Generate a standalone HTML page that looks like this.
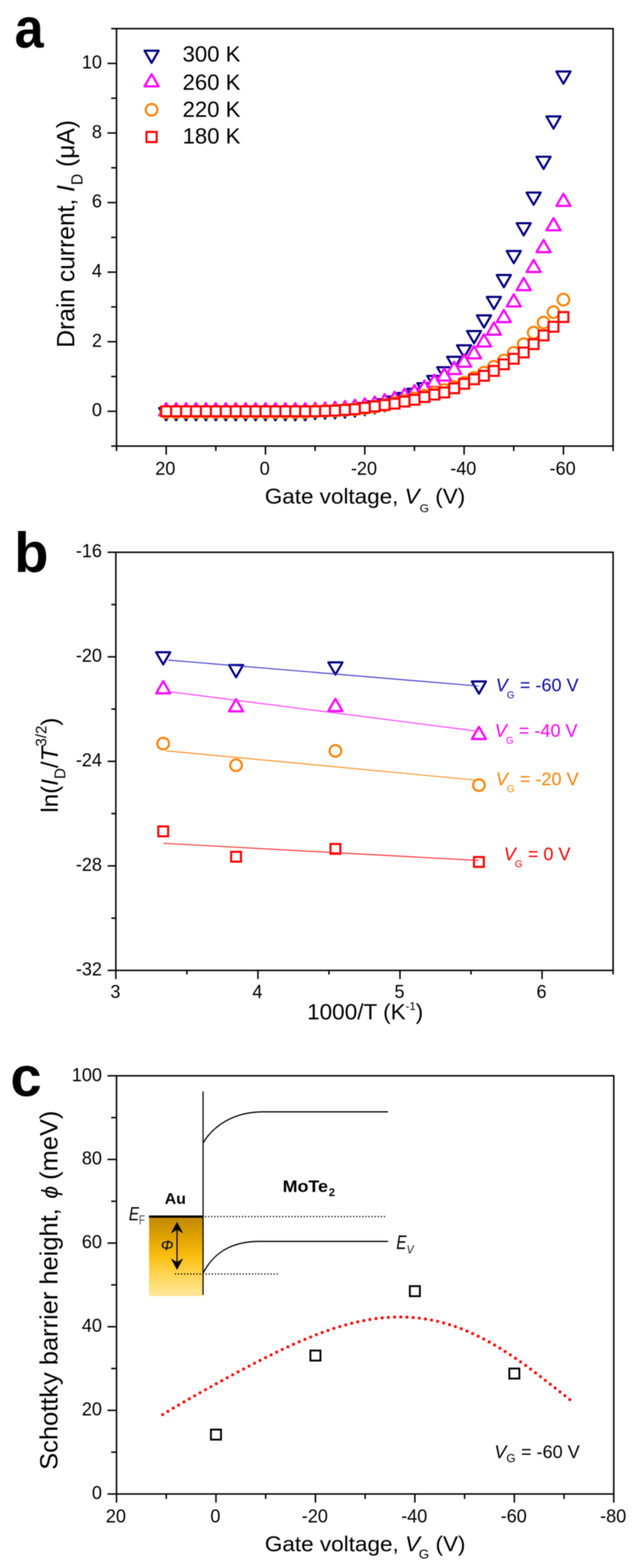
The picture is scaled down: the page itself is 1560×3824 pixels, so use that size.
<!DOCTYPE html>
<html><head><meta charset="utf-8"><title>Figure</title>
<style>html,body{margin:0;padding:0;background:#fff;} svg{display:block;} .w{filter:blur(1px);width:1560px;height:3824px;overflow:hidden;}</style></head>
<body><div class="w"><svg width="1560" height="3824" viewBox="0 0 1560 3824" font-family="Liberation Sans, Arial, sans-serif">
<rect width="1560" height="3824" fill="#fff"/>
<rect x="284.0" y="69.8" width="1210.4" height="1018.1000000000001" fill="none" stroke="#000" stroke-width="3.6"/>
<line x1="271.00" y1="1087.90" x2="284.00" y2="1087.90" stroke="#000" stroke-width="3.6" />
<line x1="262.00" y1="1003.06" x2="284.00" y2="1003.06" stroke="#000" stroke-width="3.6" />
<line x1="271.00" y1="918.22" x2="284.00" y2="918.22" stroke="#000" stroke-width="3.6" />
<line x1="262.00" y1="833.38" x2="284.00" y2="833.38" stroke="#000" stroke-width="3.6" />
<line x1="271.00" y1="748.53" x2="284.00" y2="748.53" stroke="#000" stroke-width="3.6" />
<line x1="262.00" y1="663.69" x2="284.00" y2="663.69" stroke="#000" stroke-width="3.6" />
<line x1="271.00" y1="578.85" x2="284.00" y2="578.85" stroke="#000" stroke-width="3.6" />
<line x1="262.00" y1="494.01" x2="284.00" y2="494.01" stroke="#000" stroke-width="3.6" />
<line x1="271.00" y1="409.17" x2="284.00" y2="409.17" stroke="#000" stroke-width="3.6" />
<line x1="262.00" y1="324.32" x2="284.00" y2="324.32" stroke="#000" stroke-width="3.6" />
<line x1="271.00" y1="239.48" x2="284.00" y2="239.48" stroke="#000" stroke-width="3.6" />
<line x1="262.00" y1="154.64" x2="284.00" y2="154.64" stroke="#000" stroke-width="3.6" />
<line x1="271.00" y1="69.80" x2="284.00" y2="69.80" stroke="#000" stroke-width="3.6" />
<line x1="284.00" y1="1087.90" x2="284.00" y2="1099.90" stroke="#000" stroke-width="3.6" />
<line x1="405.04" y1="1087.90" x2="405.04" y2="1108.90" stroke="#000" stroke-width="3.6" />
<line x1="526.08" y1="1087.90" x2="526.08" y2="1099.90" stroke="#000" stroke-width="3.6" />
<line x1="647.12" y1="1087.90" x2="647.12" y2="1108.90" stroke="#000" stroke-width="3.6" />
<line x1="768.16" y1="1087.90" x2="768.16" y2="1099.90" stroke="#000" stroke-width="3.6" />
<line x1="889.20" y1="1087.90" x2="889.20" y2="1108.90" stroke="#000" stroke-width="3.6" />
<line x1="1010.24" y1="1087.90" x2="1010.24" y2="1099.90" stroke="#000" stroke-width="3.6" />
<line x1="1131.28" y1="1087.90" x2="1131.28" y2="1108.90" stroke="#000" stroke-width="3.6" />
<line x1="1252.32" y1="1087.90" x2="1252.32" y2="1099.90" stroke="#000" stroke-width="3.6" />
<line x1="1373.36" y1="1087.90" x2="1373.36" y2="1108.90" stroke="#000" stroke-width="3.6" />
<line x1="1494.40" y1="1087.90" x2="1494.40" y2="1099.90" stroke="#000" stroke-width="3.6" />
<text transform="translate(248.50,1015.46) scale(1.0,1.05)" font-size="44" text-anchor="end" fill="#000" >0</text>
<text transform="translate(248.50,845.78) scale(1.0,1.05)" font-size="44" text-anchor="end" fill="#000" >2</text>
<text transform="translate(248.50,676.09) scale(1.0,1.05)" font-size="44" text-anchor="end" fill="#000" >4</text>
<text transform="translate(248.50,506.41) scale(1.0,1.05)" font-size="44" text-anchor="end" fill="#000" >6</text>
<text transform="translate(248.50,336.72) scale(1.0,1.05)" font-size="44" text-anchor="end" fill="#000" >8</text>
<text transform="translate(248.50,167.04) scale(1.0,1.05)" font-size="44" text-anchor="end" fill="#000" >10</text>
<text transform="translate(403.04,1157.80) scale(1.0,1.05)" font-size="44" text-anchor="middle" fill="#000" >20</text>
<text transform="translate(645.12,1157.80) scale(1.0,1.05)" font-size="44" text-anchor="middle" fill="#000" >0</text>
<text transform="translate(887.20,1157.80) scale(1.0,1.05)" font-size="44" text-anchor="middle" fill="#000" >-20</text>
<text transform="translate(1129.28,1157.80) scale(1.0,1.05)" font-size="44" text-anchor="middle" fill="#000" >-40</text>
<text transform="translate(1371.36,1157.80) scale(1.0,1.05)" font-size="44" text-anchor="middle" fill="#000" >-60</text>
<polygon points="387.79,995.22 422.29,995.22 405.04,1025.10" fill="#fff" stroke="#000080" stroke-width="5.2" stroke-linejoin="round"/>
<polygon points="412.00,995.22 446.50,995.22 429.25,1025.10" fill="#fff" stroke="#000080" stroke-width="5.2" stroke-linejoin="round"/>
<polygon points="436.21,995.22 470.71,995.22 453.46,1025.10" fill="#fff" stroke="#000080" stroke-width="5.2" stroke-linejoin="round"/>
<polygon points="460.41,995.22 494.91,995.22 477.66,1025.10" fill="#fff" stroke="#000080" stroke-width="5.2" stroke-linejoin="round"/>
<polygon points="484.62,995.22 519.12,995.22 501.87,1025.10" fill="#fff" stroke="#000080" stroke-width="5.2" stroke-linejoin="round"/>
<polygon points="508.83,995.22 543.33,995.22 526.08,1025.10" fill="#fff" stroke="#000080" stroke-width="5.2" stroke-linejoin="round"/>
<polygon points="533.04,995.22 567.54,995.22 550.29,1025.10" fill="#fff" stroke="#000080" stroke-width="5.2" stroke-linejoin="round"/>
<polygon points="557.25,995.22 591.75,995.22 574.50,1025.10" fill="#fff" stroke="#000080" stroke-width="5.2" stroke-linejoin="round"/>
<polygon points="581.45,995.22 615.95,995.22 598.70,1025.10" fill="#fff" stroke="#000080" stroke-width="5.2" stroke-linejoin="round"/>
<polygon points="605.66,995.22 640.16,995.22 622.91,1025.10" fill="#fff" stroke="#000080" stroke-width="5.2" stroke-linejoin="round"/>
<polygon points="629.87,995.22 664.37,995.22 647.12,1025.10" fill="#fff" stroke="#000080" stroke-width="5.2" stroke-linejoin="round"/>
<polygon points="654.08,995.22 688.58,995.22 671.33,1025.10" fill="#fff" stroke="#000080" stroke-width="5.2" stroke-linejoin="round"/>
<polygon points="678.29,995.22 712.79,995.22 695.54,1025.10" fill="#fff" stroke="#000080" stroke-width="5.2" stroke-linejoin="round"/>
<polygon points="702.49,995.22 736.99,995.22 719.74,1025.10" fill="#fff" stroke="#000080" stroke-width="5.2" stroke-linejoin="round"/>
<polygon points="726.70,995.22 761.20,995.22 743.95,1025.10" fill="#fff" stroke="#000080" stroke-width="5.2" stroke-linejoin="round"/>
<polygon points="750.91,992.25 785.41,992.25 768.16,1022.13" fill="#fff" stroke="#000080" stroke-width="5.2" stroke-linejoin="round"/>
<polygon points="775.12,991.40 809.62,991.40 792.37,1021.28" fill="#fff" stroke="#000080" stroke-width="5.2" stroke-linejoin="round"/>
<polygon points="799.33,990.55 833.83,990.55 816.58,1020.43" fill="#fff" stroke="#000080" stroke-width="5.2" stroke-linejoin="round"/>
<polygon points="823.53,988.86 858.03,988.86 840.78,1018.73" fill="#fff" stroke="#000080" stroke-width="5.2" stroke-linejoin="round"/>
<polygon points="847.74,986.31 882.24,986.31 864.99,1016.19" fill="#fff" stroke="#000080" stroke-width="5.2" stroke-linejoin="round"/>
<polygon points="871.95,982.92 906.45,982.92 889.20,1012.80" fill="#fff" stroke="#000080" stroke-width="5.2" stroke-linejoin="round"/>
<polygon points="896.16,978.68 930.66,978.68 913.41,1008.55" fill="#fff" stroke="#000080" stroke-width="5.2" stroke-linejoin="round"/>
<polygon points="920.37,973.59 954.87,973.59 937.62,1003.46" fill="#fff" stroke="#000080" stroke-width="5.2" stroke-linejoin="round"/>
<polygon points="944.57,966.80 979.07,966.80 961.82,996.68" fill="#fff" stroke="#000080" stroke-width="5.2" stroke-linejoin="round"/>
<polygon points="968.78,958.31 1003.28,958.31 986.03,988.19" fill="#fff" stroke="#000080" stroke-width="5.2" stroke-linejoin="round"/>
<polygon points="992.99,948.13 1027.49,948.13 1010.24,978.01" fill="#fff" stroke="#000080" stroke-width="5.2" stroke-linejoin="round"/>
<polygon points="1017.20,934.56 1051.70,934.56 1034.45,964.44" fill="#fff" stroke="#000080" stroke-width="5.2" stroke-linejoin="round"/>
<polygon points="1041.41,916.74 1075.91,916.74 1058.66,946.62" fill="#fff" stroke="#000080" stroke-width="5.2" stroke-linejoin="round"/>
<polygon points="1065.61,895.53 1100.11,895.53 1082.86,925.41" fill="#fff" stroke="#000080" stroke-width="5.2" stroke-linejoin="round"/>
<polygon points="1089.82,870.08 1124.32,870.08 1107.07,899.96" fill="#fff" stroke="#000080" stroke-width="5.2" stroke-linejoin="round"/>
<polygon points="1114.03,842.08 1148.53,842.08 1131.28,871.96" fill="#fff" stroke="#000080" stroke-width="5.2" stroke-linejoin="round"/>
<polygon points="1138.24,807.30 1172.74,807.30 1155.49,837.17" fill="#fff" stroke="#000080" stroke-width="5.2" stroke-linejoin="round"/>
<polygon points="1162.45,769.12 1196.95,769.12 1179.70,798.99" fill="#fff" stroke="#000080" stroke-width="5.2" stroke-linejoin="round"/>
<polygon points="1186.65,724.15 1221.15,724.15 1203.90,754.03" fill="#fff" stroke="#000080" stroke-width="5.2" stroke-linejoin="round"/>
<polygon points="1210.86,670.70 1245.36,670.70 1228.11,700.58" fill="#fff" stroke="#000080" stroke-width="5.2" stroke-linejoin="round"/>
<polygon points="1235.07,612.16 1269.57,612.16 1252.32,642.04" fill="#fff" stroke="#000080" stroke-width="5.2" stroke-linejoin="round"/>
<polygon points="1259.28,544.29 1293.78,544.29 1276.53,574.16" fill="#fff" stroke="#000080" stroke-width="5.2" stroke-linejoin="round"/>
<polygon points="1283.49,469.63 1317.99,469.63 1300.74,499.50" fill="#fff" stroke="#000080" stroke-width="5.2" stroke-linejoin="round"/>
<polygon points="1307.69,382.24 1342.19,382.24 1324.94,412.12" fill="#fff" stroke="#000080" stroke-width="5.2" stroke-linejoin="round"/>
<polygon points="1331.90,283.82 1366.40,283.82 1349.15,313.70" fill="#fff" stroke="#000080" stroke-width="5.2" stroke-linejoin="round"/>
<polygon points="1356.11,174.38 1390.61,174.38 1373.36,204.25" fill="#fff" stroke="#000080" stroke-width="5.2" stroke-linejoin="round"/>
<polygon points="387.79,1013.02 422.29,1013.02 405.04,983.14" fill="#fff" stroke="#ff00ff" stroke-width="5.2" stroke-linejoin="round"/>
<polygon points="412.00,1013.02 446.50,1013.02 429.25,983.14" fill="#fff" stroke="#ff00ff" stroke-width="5.2" stroke-linejoin="round"/>
<polygon points="436.21,1013.02 470.71,1013.02 453.46,983.14" fill="#fff" stroke="#ff00ff" stroke-width="5.2" stroke-linejoin="round"/>
<polygon points="460.41,1013.02 494.91,1013.02 477.66,983.14" fill="#fff" stroke="#ff00ff" stroke-width="5.2" stroke-linejoin="round"/>
<polygon points="484.62,1013.02 519.12,1013.02 501.87,983.14" fill="#fff" stroke="#ff00ff" stroke-width="5.2" stroke-linejoin="round"/>
<polygon points="508.83,1013.02 543.33,1013.02 526.08,983.14" fill="#fff" stroke="#ff00ff" stroke-width="5.2" stroke-linejoin="round"/>
<polygon points="533.04,1013.02 567.54,1013.02 550.29,983.14" fill="#fff" stroke="#ff00ff" stroke-width="5.2" stroke-linejoin="round"/>
<polygon points="557.25,1013.02 591.75,1013.02 574.50,983.14" fill="#fff" stroke="#ff00ff" stroke-width="5.2" stroke-linejoin="round"/>
<polygon points="581.45,1013.02 615.95,1013.02 598.70,983.14" fill="#fff" stroke="#ff00ff" stroke-width="5.2" stroke-linejoin="round"/>
<polygon points="605.66,1013.02 640.16,1013.02 622.91,983.14" fill="#fff" stroke="#ff00ff" stroke-width="5.2" stroke-linejoin="round"/>
<polygon points="629.87,1013.02 664.37,1013.02 647.12,983.14" fill="#fff" stroke="#ff00ff" stroke-width="5.2" stroke-linejoin="round"/>
<polygon points="654.08,1013.02 688.58,1013.02 671.33,983.14" fill="#fff" stroke="#ff00ff" stroke-width="5.2" stroke-linejoin="round"/>
<polygon points="678.29,1013.02 712.79,1013.02 695.54,983.14" fill="#fff" stroke="#ff00ff" stroke-width="5.2" stroke-linejoin="round"/>
<polygon points="702.49,1013.02 736.99,1013.02 719.74,983.14" fill="#fff" stroke="#ff00ff" stroke-width="5.2" stroke-linejoin="round"/>
<polygon points="726.70,1013.02 761.20,1013.02 743.95,983.14" fill="#fff" stroke="#ff00ff" stroke-width="5.2" stroke-linejoin="round"/>
<polygon points="750.91,1012.17 785.41,1012.17 768.16,982.29" fill="#fff" stroke="#ff00ff" stroke-width="5.2" stroke-linejoin="round"/>
<polygon points="775.12,1011.32 809.62,1011.32 792.37,981.44" fill="#fff" stroke="#ff00ff" stroke-width="5.2" stroke-linejoin="round"/>
<polygon points="799.33,1009.62 833.83,1009.62 816.58,979.75" fill="#fff" stroke="#ff00ff" stroke-width="5.2" stroke-linejoin="round"/>
<polygon points="823.53,1007.93 858.03,1007.93 840.78,978.05" fill="#fff" stroke="#ff00ff" stroke-width="5.2" stroke-linejoin="round"/>
<polygon points="847.74,1004.53 882.24,1004.53 864.99,974.66" fill="#fff" stroke="#ff00ff" stroke-width="5.2" stroke-linejoin="round"/>
<polygon points="871.95,1001.14 906.45,1001.14 889.20,971.26" fill="#fff" stroke="#ff00ff" stroke-width="5.2" stroke-linejoin="round"/>
<polygon points="896.16,996.90 930.66,996.90 913.41,967.02" fill="#fff" stroke="#ff00ff" stroke-width="5.2" stroke-linejoin="round"/>
<polygon points="920.37,990.96 954.87,990.96 937.62,961.08" fill="#fff" stroke="#ff00ff" stroke-width="5.2" stroke-linejoin="round"/>
<polygon points="944.57,985.02 979.07,985.02 961.82,955.14" fill="#fff" stroke="#ff00ff" stroke-width="5.2" stroke-linejoin="round"/>
<polygon points="968.78,977.38 1003.28,977.38 986.03,947.51" fill="#fff" stroke="#ff00ff" stroke-width="5.2" stroke-linejoin="round"/>
<polygon points="992.99,968.90 1027.49,968.90 1010.24,939.02" fill="#fff" stroke="#ff00ff" stroke-width="5.2" stroke-linejoin="round"/>
<polygon points="1017.20,957.87 1051.70,957.87 1034.45,927.99" fill="#fff" stroke="#ff00ff" stroke-width="5.2" stroke-linejoin="round"/>
<polygon points="1041.41,943.45 1075.91,943.45 1058.66,913.57" fill="#fff" stroke="#ff00ff" stroke-width="5.2" stroke-linejoin="round"/>
<polygon points="1065.61,928.18 1100.11,928.18 1082.86,898.30" fill="#fff" stroke="#ff00ff" stroke-width="5.2" stroke-linejoin="round"/>
<polygon points="1089.82,912.06 1124.32,912.06 1107.07,882.18" fill="#fff" stroke="#ff00ff" stroke-width="5.2" stroke-linejoin="round"/>
<polygon points="1114.03,894.24 1148.53,894.24 1131.28,864.36" fill="#fff" stroke="#ff00ff" stroke-width="5.2" stroke-linejoin="round"/>
<polygon points="1138.24,873.88 1172.74,873.88 1155.49,844.00" fill="#fff" stroke="#ff00ff" stroke-width="5.2" stroke-linejoin="round"/>
<polygon points="1162.45,845.03 1196.95,845.03 1179.70,815.15" fill="#fff" stroke="#ff00ff" stroke-width="5.2" stroke-linejoin="round"/>
<polygon points="1186.65,816.18 1221.15,816.18 1203.90,786.31" fill="#fff" stroke="#ff00ff" stroke-width="5.2" stroke-linejoin="round"/>
<polygon points="1210.86,785.64 1245.36,785.64 1228.11,755.76" fill="#fff" stroke="#ff00ff" stroke-width="5.2" stroke-linejoin="round"/>
<polygon points="1235.07,747.46 1269.57,747.46 1252.32,717.59" fill="#fff" stroke="#ff00ff" stroke-width="5.2" stroke-linejoin="round"/>
<polygon points="1259.28,707.59 1293.78,707.59 1276.53,677.71" fill="#fff" stroke="#ff00ff" stroke-width="5.2" stroke-linejoin="round"/>
<polygon points="1283.49,663.47 1317.99,663.47 1300.74,633.59" fill="#fff" stroke="#ff00ff" stroke-width="5.2" stroke-linejoin="round"/>
<polygon points="1307.69,615.11 1342.19,615.11 1324.94,585.23" fill="#fff" stroke="#ff00ff" stroke-width="5.2" stroke-linejoin="round"/>
<polygon points="1331.90,561.66 1366.40,561.66 1349.15,531.78" fill="#fff" stroke="#ff00ff" stroke-width="5.2" stroke-linejoin="round"/>
<polygon points="1356.11,502.27 1390.61,502.27 1373.36,472.39" fill="#fff" stroke="#ff00ff" stroke-width="5.2" stroke-linejoin="round"/>
<circle cx="405.04" cy="1005.18" r="14.2" fill="#fff" stroke="#ff8000" stroke-width="5.0"/>
<circle cx="429.25" cy="1005.18" r="14.2" fill="#fff" stroke="#ff8000" stroke-width="5.0"/>
<circle cx="453.46" cy="1005.18" r="14.2" fill="#fff" stroke="#ff8000" stroke-width="5.0"/>
<circle cx="477.66" cy="1005.18" r="14.2" fill="#fff" stroke="#ff8000" stroke-width="5.0"/>
<circle cx="501.87" cy="1005.18" r="14.2" fill="#fff" stroke="#ff8000" stroke-width="5.0"/>
<circle cx="526.08" cy="1005.18" r="14.2" fill="#fff" stroke="#ff8000" stroke-width="5.0"/>
<circle cx="550.29" cy="1005.18" r="14.2" fill="#fff" stroke="#ff8000" stroke-width="5.0"/>
<circle cx="574.50" cy="1005.18" r="14.2" fill="#fff" stroke="#ff8000" stroke-width="5.0"/>
<circle cx="598.70" cy="1005.18" r="14.2" fill="#fff" stroke="#ff8000" stroke-width="5.0"/>
<circle cx="622.91" cy="1005.18" r="14.2" fill="#fff" stroke="#ff8000" stroke-width="5.0"/>
<circle cx="647.12" cy="1005.18" r="14.2" fill="#fff" stroke="#ff8000" stroke-width="5.0"/>
<circle cx="671.33" cy="1005.18" r="14.2" fill="#fff" stroke="#ff8000" stroke-width="5.0"/>
<circle cx="695.54" cy="1005.18" r="14.2" fill="#fff" stroke="#ff8000" stroke-width="5.0"/>
<circle cx="719.74" cy="1005.18" r="14.2" fill="#fff" stroke="#ff8000" stroke-width="5.0"/>
<circle cx="743.95" cy="1005.18" r="14.2" fill="#fff" stroke="#ff8000" stroke-width="5.0"/>
<circle cx="768.16" cy="1003.06" r="14.2" fill="#fff" stroke="#ff8000" stroke-width="5.0"/>
<circle cx="792.37" cy="1002.21" r="14.2" fill="#fff" stroke="#ff8000" stroke-width="5.0"/>
<circle cx="816.58" cy="1001.36" r="14.2" fill="#fff" stroke="#ff8000" stroke-width="5.0"/>
<circle cx="840.78" cy="999.66" r="14.2" fill="#fff" stroke="#ff8000" stroke-width="5.0"/>
<circle cx="864.99" cy="997.97" r="14.2" fill="#fff" stroke="#ff8000" stroke-width="5.0"/>
<circle cx="889.20" cy="995.42" r="14.2" fill="#fff" stroke="#ff8000" stroke-width="5.0"/>
<circle cx="913.41" cy="992.03" r="14.2" fill="#fff" stroke="#ff8000" stroke-width="5.0"/>
<circle cx="937.62" cy="987.79" r="14.2" fill="#fff" stroke="#ff8000" stroke-width="5.0"/>
<circle cx="961.82" cy="982.70" r="14.2" fill="#fff" stroke="#ff8000" stroke-width="5.0"/>
<circle cx="986.03" cy="977.61" r="14.2" fill="#fff" stroke="#ff8000" stroke-width="5.0"/>
<circle cx="1010.24" cy="971.67" r="14.2" fill="#fff" stroke="#ff8000" stroke-width="5.0"/>
<circle cx="1034.45" cy="964.88" r="14.2" fill="#fff" stroke="#ff8000" stroke-width="5.0"/>
<circle cx="1058.66" cy="958.09" r="14.2" fill="#fff" stroke="#ff8000" stroke-width="5.0"/>
<circle cx="1082.86" cy="951.30" r="14.2" fill="#fff" stroke="#ff8000" stroke-width="5.0"/>
<circle cx="1107.07" cy="943.67" r="14.2" fill="#fff" stroke="#ff8000" stroke-width="5.0"/>
<circle cx="1131.28" cy="933.49" r="14.2" fill="#fff" stroke="#ff8000" stroke-width="5.0"/>
<circle cx="1155.49" cy="921.61" r="14.2" fill="#fff" stroke="#ff8000" stroke-width="5.0"/>
<circle cx="1179.70" cy="908.88" r="14.2" fill="#fff" stroke="#ff8000" stroke-width="5.0"/>
<circle cx="1203.90" cy="894.46" r="14.2" fill="#fff" stroke="#ff8000" stroke-width="5.0"/>
<circle cx="1228.11" cy="879.19" r="14.2" fill="#fff" stroke="#ff8000" stroke-width="5.0"/>
<circle cx="1252.32" cy="860.52" r="14.2" fill="#fff" stroke="#ff8000" stroke-width="5.0"/>
<circle cx="1276.53" cy="839.31" r="14.2" fill="#fff" stroke="#ff8000" stroke-width="5.0"/>
<circle cx="1300.74" cy="811.32" r="14.2" fill="#fff" stroke="#ff8000" stroke-width="5.0"/>
<circle cx="1324.94" cy="786.71" r="14.2" fill="#fff" stroke="#ff8000" stroke-width="5.0"/>
<circle cx="1349.15" cy="761.26" r="14.2" fill="#fff" stroke="#ff8000" stroke-width="5.0"/>
<circle cx="1373.36" cy="730.72" r="14.2" fill="#fff" stroke="#ff8000" stroke-width="5.0"/>
<rect x="393.04" y="991.06" width="24" height="24" fill="#fff" stroke="#ff0000" stroke-width="5.0"/>
<rect x="417.25" y="991.06" width="24" height="24" fill="#fff" stroke="#ff0000" stroke-width="5.0"/>
<rect x="441.46" y="991.06" width="24" height="24" fill="#fff" stroke="#ff0000" stroke-width="5.0"/>
<rect x="465.66" y="991.06" width="24" height="24" fill="#fff" stroke="#ff0000" stroke-width="5.0"/>
<rect x="489.87" y="991.06" width="24" height="24" fill="#fff" stroke="#ff0000" stroke-width="5.0"/>
<rect x="514.08" y="991.06" width="24" height="24" fill="#fff" stroke="#ff0000" stroke-width="5.0"/>
<rect x="538.29" y="991.06" width="24" height="24" fill="#fff" stroke="#ff0000" stroke-width="5.0"/>
<rect x="562.50" y="991.06" width="24" height="24" fill="#fff" stroke="#ff0000" stroke-width="5.0"/>
<rect x="586.70" y="991.06" width="24" height="24" fill="#fff" stroke="#ff0000" stroke-width="5.0"/>
<rect x="610.91" y="991.06" width="24" height="24" fill="#fff" stroke="#ff0000" stroke-width="5.0"/>
<rect x="635.12" y="991.06" width="24" height="24" fill="#fff" stroke="#ff0000" stroke-width="5.0"/>
<rect x="659.33" y="991.06" width="24" height="24" fill="#fff" stroke="#ff0000" stroke-width="5.0"/>
<rect x="683.54" y="991.06" width="24" height="24" fill="#fff" stroke="#ff0000" stroke-width="5.0"/>
<rect x="707.74" y="991.06" width="24" height="24" fill="#fff" stroke="#ff0000" stroke-width="5.0"/>
<rect x="731.95" y="991.06" width="24" height="24" fill="#fff" stroke="#ff0000" stroke-width="5.0"/>
<rect x="756.16" y="991.06" width="24" height="24" fill="#fff" stroke="#ff0000" stroke-width="5.0"/>
<rect x="780.37" y="990.21" width="24" height="24" fill="#fff" stroke="#ff0000" stroke-width="5.0"/>
<rect x="804.58" y="989.36" width="24" height="24" fill="#fff" stroke="#ff0000" stroke-width="5.0"/>
<rect x="828.78" y="987.66" width="24" height="24" fill="#fff" stroke="#ff0000" stroke-width="5.0"/>
<rect x="852.99" y="985.97" width="24" height="24" fill="#fff" stroke="#ff0000" stroke-width="5.0"/>
<rect x="877.20" y="982.57" width="24" height="24" fill="#fff" stroke="#ff0000" stroke-width="5.0"/>
<rect x="901.41" y="979.18" width="24" height="24" fill="#fff" stroke="#ff0000" stroke-width="5.0"/>
<rect x="925.62" y="975.79" width="24" height="24" fill="#fff" stroke="#ff0000" stroke-width="5.0"/>
<rect x="949.82" y="972.39" width="24" height="24" fill="#fff" stroke="#ff0000" stroke-width="5.0"/>
<rect x="974.03" y="967.30" width="24" height="24" fill="#fff" stroke="#ff0000" stroke-width="5.0"/>
<rect x="998.24" y="963.06" width="24" height="24" fill="#fff" stroke="#ff0000" stroke-width="5.0"/>
<rect x="1022.45" y="956.27" width="24" height="24" fill="#fff" stroke="#ff0000" stroke-width="5.0"/>
<rect x="1046.66" y="950.33" width="24" height="24" fill="#fff" stroke="#ff0000" stroke-width="5.0"/>
<rect x="1070.86" y="945.24" width="24" height="24" fill="#fff" stroke="#ff0000" stroke-width="5.0"/>
<rect x="1095.07" y="935.06" width="24" height="24" fill="#fff" stroke="#ff0000" stroke-width="5.0"/>
<rect x="1119.28" y="924.03" width="24" height="24" fill="#fff" stroke="#ff0000" stroke-width="5.0"/>
<rect x="1143.49" y="913.00" width="24" height="24" fill="#fff" stroke="#ff0000" stroke-width="5.0"/>
<rect x="1167.70" y="904.52" width="24" height="24" fill="#fff" stroke="#ff0000" stroke-width="5.0"/>
<rect x="1191.90" y="892.64" width="24" height="24" fill="#fff" stroke="#ff0000" stroke-width="5.0"/>
<rect x="1216.11" y="876.52" width="24" height="24" fill="#fff" stroke="#ff0000" stroke-width="5.0"/>
<rect x="1240.32" y="862.95" width="24" height="24" fill="#fff" stroke="#ff0000" stroke-width="5.0"/>
<rect x="1264.53" y="847.68" width="24" height="24" fill="#fff" stroke="#ff0000" stroke-width="5.0"/>
<rect x="1288.74" y="827.31" width="24" height="24" fill="#fff" stroke="#ff0000" stroke-width="5.0"/>
<rect x="1312.94" y="806.10" width="24" height="24" fill="#fff" stroke="#ff0000" stroke-width="5.0"/>
<rect x="1337.15" y="784.89" width="24" height="24" fill="#fff" stroke="#ff0000" stroke-width="5.0"/>
<rect x="1361.36" y="761.14" width="24" height="24" fill="#fff" stroke="#ff0000" stroke-width="5.0"/>
<polygon points="352.25,123.54 386.75,123.54 369.50,153.42" fill="#fff" stroke="#000080" stroke-width="5.2" stroke-linejoin="round"/>
<polygon points="352.25,210.66 386.75,210.66 369.50,180.78" fill="#fff" stroke="#ff00ff" stroke-width="5.2" stroke-linejoin="round"/>
<circle cx="369.50" cy="267.80" r="14.2" fill="#fff" stroke="#ff8000" stroke-width="5.0"/>
<rect x="357.10" y="321.70" width="24.8" height="24.8" fill="#fff" stroke="#ff0000" stroke-width="5.0"/>
<text x="445.00" y="150.00" font-size="54" fill="#000" >300 K</text>
<text x="445.00" y="218.50" font-size="54" fill="#000" >260 K</text>
<text x="445.00" y="284.70" font-size="54" fill="#000" >220 K</text>
<text x="445.00" y="350.20" font-size="54" fill="#000" >180 K</text>
<text transform="translate(180.50,848.00) rotate(-90) scale(1.0,1.03)" font-size="60" fill="#000" >Drain current, <tspan font-style="italic">I</tspan><tspan font-size="38" dy="20">D</tspan><tspan dy="-20"> (μA)</tspan></text>
<text transform="translate(645.50,1228.30) scale(1.053,1.0)" font-size="52" fill="#000" >Gate voltage, <tspan font-style="italic">V</tspan><tspan font-size="28" dy="20.5">G</tspan><tspan dy="-20.5"> (V)</tspan></text>
<text transform="translate(35.50,115.50) scale(0.93,1.0)" font-size="137" font-weight="bold" fill="#000" >a</text>
<rect x="282.4" y="1346.9" width="1212.0" height="1019.6999999999998" fill="none" stroke="#000" stroke-width="3.6"/>
<line x1="262.40" y1="1346.90" x2="282.40" y2="1346.90" stroke="#000" stroke-width="3.6" />
<line x1="271.40" y1="1474.36" x2="282.40" y2="1474.36" stroke="#000" stroke-width="3.6" />
<line x1="262.40" y1="1601.83" x2="282.40" y2="1601.83" stroke="#000" stroke-width="3.6" />
<line x1="271.40" y1="1729.29" x2="282.40" y2="1729.29" stroke="#000" stroke-width="3.6" />
<line x1="262.40" y1="1856.75" x2="282.40" y2="1856.75" stroke="#000" stroke-width="3.6" />
<line x1="271.40" y1="1984.21" x2="282.40" y2="1984.21" stroke="#000" stroke-width="3.6" />
<line x1="262.40" y1="2111.68" x2="282.40" y2="2111.68" stroke="#000" stroke-width="3.6" />
<line x1="271.40" y1="2239.14" x2="282.40" y2="2239.14" stroke="#000" stroke-width="3.6" />
<line x1="262.40" y1="2366.60" x2="282.40" y2="2366.60" stroke="#000" stroke-width="3.6" />
<line x1="282.40" y1="2366.60" x2="282.40" y2="2387.60" stroke="#000" stroke-width="3.6" />
<line x1="455.54" y1="2366.60" x2="455.54" y2="2376.60" stroke="#000" stroke-width="3.6" />
<line x1="628.69" y1="2366.60" x2="628.69" y2="2387.60" stroke="#000" stroke-width="3.6" />
<line x1="801.83" y1="2366.60" x2="801.83" y2="2376.60" stroke="#000" stroke-width="3.6" />
<line x1="974.97" y1="2366.60" x2="974.97" y2="2387.60" stroke="#000" stroke-width="3.6" />
<line x1="1148.11" y1="2366.60" x2="1148.11" y2="2376.60" stroke="#000" stroke-width="3.6" />
<line x1="1321.26" y1="2366.60" x2="1321.26" y2="2387.60" stroke="#000" stroke-width="3.6" />
<line x1="1494.40" y1="2366.60" x2="1494.40" y2="2376.60" stroke="#000" stroke-width="3.6" />
<text transform="translate(248.50,1359.30) scale(1.0,1.05)" font-size="44" text-anchor="end" fill="#000" >-16</text>
<text transform="translate(248.50,1614.23) scale(1.0,1.05)" font-size="44" text-anchor="end" fill="#000" >-20</text>
<text transform="translate(248.50,1869.15) scale(1.0,1.05)" font-size="44" text-anchor="end" fill="#000" >-24</text>
<text transform="translate(248.50,2124.08) scale(1.0,1.05)" font-size="44" text-anchor="end" fill="#000" >-28</text>
<text transform="translate(248.50,2379.00) scale(1.0,1.05)" font-size="44" text-anchor="end" fill="#000" >-32</text>
<text transform="translate(281.20,2433.60) scale(1.0,1.05)" font-size="44" text-anchor="middle" fill="#000" >3</text>
<text transform="translate(627.49,2433.60) scale(1.0,1.05)" font-size="44" text-anchor="middle" fill="#000" >4</text>
<text transform="translate(973.77,2433.60) scale(1.0,1.05)" font-size="44" text-anchor="middle" fill="#000" >5</text>
<text transform="translate(1320.06,2433.60) scale(1.0,1.05)" font-size="44" text-anchor="middle" fill="#000" >6</text>
<polygon points="380.58,1590.59 415.08,1590.59 397.83,1620.47" fill="#fff" stroke="#000080" stroke-width="5.2" stroke-linejoin="round"/>
<polygon points="558.16,1621.82 592.66,1621.82 575.41,1651.70" fill="#fff" stroke="#000080" stroke-width="5.2" stroke-linejoin="round"/>
<polygon points="800.32,1615.45 834.82,1615.45 817.57,1645.32" fill="#fff" stroke="#000080" stroke-width="5.2" stroke-linejoin="round"/>
<polygon points="1150.10,1661.97 1184.60,1661.97 1167.35,1691.85" fill="#fff" stroke="#000080" stroke-width="5.2" stroke-linejoin="round"/>
<polygon points="380.58,1690.81 415.08,1690.81 397.83,1660.93" fill="#fff" stroke="#ff00ff" stroke-width="5.2" stroke-linejoin="round"/>
<polygon points="558.16,1734.79 592.66,1734.79 575.41,1704.91" fill="#fff" stroke="#ff00ff" stroke-width="5.2" stroke-linejoin="round"/>
<polygon points="800.32,1734.15 834.82,1734.15 817.57,1704.27" fill="#fff" stroke="#ff00ff" stroke-width="5.2" stroke-linejoin="round"/>
<polygon points="1150.10,1802.34 1184.60,1802.34 1167.35,1772.46" fill="#fff" stroke="#ff00ff" stroke-width="5.2" stroke-linejoin="round"/>
<circle cx="397.83" cy="1813.41" r="14.2" fill="#fff" stroke="#ff8000" stroke-width="5.0"/>
<circle cx="575.41" cy="1866.31" r="14.2" fill="#fff" stroke="#ff8000" stroke-width="5.0"/>
<circle cx="817.57" cy="1831.26" r="14.2" fill="#fff" stroke="#ff8000" stroke-width="5.0"/>
<circle cx="1167.35" cy="1914.75" r="14.2" fill="#fff" stroke="#ff8000" stroke-width="5.0"/>
<rect x="385.83" y="2015.55" width="24" height="24" fill="#fff" stroke="#ff0000" stroke-width="5.0"/>
<rect x="563.41" y="2077.37" width="24" height="24" fill="#fff" stroke="#ff0000" stroke-width="5.0"/>
<rect x="805.57" y="2058.25" width="24" height="24" fill="#fff" stroke="#ff0000" stroke-width="5.0"/>
<rect x="1155.35" y="2090.12" width="24" height="24" fill="#fff" stroke="#ff0000" stroke-width="5.0"/>
<line x1="410.50" y1="1609.75" x2="1166.20" y2="1673.10" stroke="#3c34c8" stroke-width="2.4" />
<line x1="410.50" y1="1686.66" x2="1166.20" y2="1783.50" stroke="#ff30ff" stroke-width="2.4" />
<line x1="404.00" y1="1830.98" x2="1166.20" y2="1903.10" stroke="#ff8c1a" stroke-width="2.4" />
<line x1="398.50" y1="2056.59" x2="1166.20" y2="2098.50" stroke="#ff2a2a" stroke-width="2.4" />
<text x="1208.60" y="1685.50" font-size="44" font-style="italic" fill="#0c0ca6" >V</text>
<text x="1235.50" y="1702.50" font-size="24" fill="#0c0ca6" >G</text>
<text x="1267.20" y="1685.50" font-size="44" fill="#0c0ca6" >= -60 V</text>
<text x="1206.00" y="1796.60" font-size="44" font-style="italic" fill="#ff00ff" >V</text>
<text x="1232.90" y="1813.60" font-size="24" fill="#ff00ff" >G</text>
<text x="1264.60" y="1796.60" font-size="44" fill="#ff00ff" >= -40 V</text>
<text x="1208.70" y="1915.00" font-size="44" font-style="italic" fill="#ff8000" >V</text>
<text x="1235.60" y="1932.00" font-size="24" fill="#ff8000" >G</text>
<text x="1267.30" y="1915.00" font-size="44" fill="#ff8000" >= -20 V</text>
<text x="1228.10" y="2098.00" font-size="44" font-style="italic" fill="#ff0000" >V</text>
<text x="1255.00" y="2115.00" font-size="24" fill="#ff0000" >G</text>
<text x="1286.70" y="2098.00" font-size="44" fill="#ff0000" >= 0 V</text>
<text transform="translate(140.5,1982) rotate(-90) scale(1.02,1)" font-size="58" fill="#000">ln(<tspan font-style="italic">I</tspan><tspan font-size="36" dy="18">D</tspan><tspan dy="-18">/</tspan><tspan font-style="italic">T</tspan><tspan font-size="36" dy="-28">3/2</tspan><tspan dy="28">)</tspan></text>
<text transform="translate(748.50,2486.00) scale(1.018,1.0)" font-size="54" fill="#000" >1000/T (K<tspan font-size="27" dy="-23">-1</tspan><tspan dy="23">)</tspan></text>
<text x="34.40" y="1394.60" font-size="137" font-weight="bold" fill="#000" >b</text>
<rect x="284.0" y="2623.6" width="1212.1" height="1019.9000000000001" fill="none" stroke="#000" stroke-width="3.6"/>
<line x1="262.00" y1="3643.50" x2="284.00" y2="3643.50" stroke="#000" stroke-width="3.6" />
<line x1="271.00" y1="3541.51" x2="284.00" y2="3541.51" stroke="#000" stroke-width="3.6" />
<line x1="262.00" y1="3439.52" x2="284.00" y2="3439.52" stroke="#000" stroke-width="3.6" />
<line x1="271.00" y1="3337.53" x2="284.00" y2="3337.53" stroke="#000" stroke-width="3.6" />
<line x1="262.00" y1="3235.54" x2="284.00" y2="3235.54" stroke="#000" stroke-width="3.6" />
<line x1="271.00" y1="3133.55" x2="284.00" y2="3133.55" stroke="#000" stroke-width="3.6" />
<line x1="262.00" y1="3031.56" x2="284.00" y2="3031.56" stroke="#000" stroke-width="3.6" />
<line x1="271.00" y1="2929.57" x2="284.00" y2="2929.57" stroke="#000" stroke-width="3.6" />
<line x1="262.00" y1="2827.58" x2="284.00" y2="2827.58" stroke="#000" stroke-width="3.6" />
<line x1="271.00" y1="2725.59" x2="284.00" y2="2725.59" stroke="#000" stroke-width="3.6" />
<line x1="262.00" y1="2623.60" x2="284.00" y2="2623.60" stroke="#000" stroke-width="3.6" />
<line x1="284.00" y1="3643.50" x2="284.00" y2="3664.50" stroke="#000" stroke-width="3.6" />
<line x1="405.21" y1="3643.50" x2="405.21" y2="3655.50" stroke="#000" stroke-width="3.6" />
<line x1="526.42" y1="3643.50" x2="526.42" y2="3664.50" stroke="#000" stroke-width="3.6" />
<line x1="647.63" y1="3643.50" x2="647.63" y2="3655.50" stroke="#000" stroke-width="3.6" />
<line x1="768.84" y1="3643.50" x2="768.84" y2="3664.50" stroke="#000" stroke-width="3.6" />
<line x1="890.05" y1="3643.50" x2="890.05" y2="3655.50" stroke="#000" stroke-width="3.6" />
<line x1="1011.26" y1="3643.50" x2="1011.26" y2="3664.50" stroke="#000" stroke-width="3.6" />
<line x1="1132.47" y1="3643.50" x2="1132.47" y2="3655.50" stroke="#000" stroke-width="3.6" />
<line x1="1253.68" y1="3643.50" x2="1253.68" y2="3664.50" stroke="#000" stroke-width="3.6" />
<line x1="1374.89" y1="3643.50" x2="1374.89" y2="3655.50" stroke="#000" stroke-width="3.6" />
<line x1="1496.10" y1="3643.50" x2="1496.10" y2="3664.50" stroke="#000" stroke-width="3.6" />
<text transform="translate(248.50,3656.40) scale(1.0,1.05)" font-size="44" text-anchor="end" fill="#000" >0</text>
<text transform="translate(248.50,3452.42) scale(1.0,1.05)" font-size="44" text-anchor="end" fill="#000" >20</text>
<text transform="translate(248.50,3248.44) scale(1.0,1.05)" font-size="44" text-anchor="end" fill="#000" >40</text>
<text transform="translate(248.50,3044.46) scale(1.0,1.05)" font-size="44" text-anchor="end" fill="#000" >60</text>
<text transform="translate(248.50,2840.48) scale(1.0,1.05)" font-size="44" text-anchor="end" fill="#000" >80</text>
<text transform="translate(248.50,2636.50) scale(1.0,1.05)" font-size="44" text-anchor="end" fill="#000" >100</text>
<text transform="translate(282.50,3713.20) scale(1.0,1.05)" font-size="44" text-anchor="middle" fill="#000" >20</text>
<text transform="translate(524.92,3713.20) scale(1.0,1.05)" font-size="44" text-anchor="middle" fill="#000" >0</text>
<text transform="translate(767.34,3713.20) scale(1.0,1.05)" font-size="44" text-anchor="middle" fill="#000" >-20</text>
<text transform="translate(1009.76,3713.20) scale(1.0,1.05)" font-size="44" text-anchor="middle" fill="#000" >-40</text>
<text transform="translate(1252.18,3713.20) scale(1.0,1.05)" font-size="44" text-anchor="middle" fill="#000" >-60</text>
<text transform="translate(1494.60,3713.20) scale(1.0,1.05)" font-size="44" text-anchor="middle" fill="#000" >-80</text>
<text transform="translate(645.50,3782.50) scale(1.056,1.0)" font-size="52" fill="#000" >Gate voltage, <tspan font-style="italic">V</tspan><tspan font-size="31" dx="-3.1" dy="18">G</tspan><tspan dy="-18"> (V)</tspan></text>
<text transform="translate(139.50,3584.50) rotate(-90) scale(1.017,1.0)" font-size="61" fill="#000" >Schottky barrier height, <tspan font-style="italic" font-size="55" dx="6">ϕ</tspan><tspan dx="-2.4"> (meV)</tspan></text>
<text x="25.20" y="2673.20" font-size="137" font-weight="bold" fill="#000" >c</text>
<defs><linearGradient id="au" x1="0" y1="0" x2="0" y2="1"><stop offset="0" stop-color="#bf8800"/><stop offset="0.25" stop-color="#dea200"/><stop offset="0.5" stop-color="#fbbd10"/><stop offset="0.7" stop-color="#ffd24a"/><stop offset="1" stop-color="#ffe89c"/></linearGradient></defs>
<rect x="363.3" y="2967" width="131.6" height="194" fill="url(#au)"/>
<line x1="363.00" y1="2967.00" x2="495.00" y2="2967.00" stroke="#000" stroke-width="5.5" />
<line x1="495.00" y1="2661.70" x2="495.00" y2="3158.00" stroke="#000" stroke-width="2.8" />
<path d="M495,2787.5 C520,2745 570,2712 640,2711.5 L945.5,2711.5" fill="none" stroke="#000" stroke-width="2.8"/>
<path d="M495,3105 C518,3060 560,3028 630,3027.5 L945.8,3027.5" fill="none" stroke="#000" stroke-width="2.8"/>
<line x1="501" y1="2967" x2="942" y2="2967" stroke="#000" stroke-width="3.5" stroke-linecap="round" stroke-dasharray="0 7.52"/>
<line x1="427.5" y1="3107" x2="680" y2="3107" stroke="#000" stroke-width="3.5" stroke-linecap="round" stroke-dasharray="0 7.52"/>
<line x1="431.50" y1="2990.00" x2="431.50" y2="3087.00" stroke="#000" stroke-width="2.8" />
<path d="M431.5,2980 L446.5,3008 L431.5,2999 L416.5,3008 Z" fill="#000"/>
<path d="M431.5,3097 L446.5,3069 L431.5,3078 L416.5,3069 Z" fill="#000"/>
<text transform="translate(392.00,3048.50) scale(1.05,1.0)" font-size="35" font-style="italic" fill="#000" >Φ</text>
<text transform="translate(314.00,2976.20) scale(0.8,1.0)" font-size="47" font-style="italic" fill="#000" >E</text>
<text transform="translate(338.50,2986.20) scale(0.8,1.0)" font-size="31" fill="#555" >F</text>
<text transform="translate(401.50,2936.30) scale(1.03,1.0)" font-size="37.5" font-weight="bold" fill="#000" >Au</text>
<text transform="translate(689.00,2906.80) scale(1.075,1.0)" font-size="40.5" font-weight="bold" fill="#000" >MoTe</text>
<text x="801.50" y="2917.00" font-size="27" font-weight="bold" fill="#000" >2</text>
<text transform="translate(966.00,3045.90) scale(0.78,1.0)" font-size="47.5" font-style="italic" fill="#000" >E</text>
<text transform="translate(991.00,3056.50) scale(0.87,1.0)" font-size="30" font-style="italic" fill="#222" >V</text>
<path d="M396.40,3449.85 L398.92,3448.32 L401.43,3446.80 L403.95,3445.28 L406.46,3443.76 L408.98,3442.25 L411.49,3440.74 L414.01,3439.24 L416.53,3437.73 L419.04,3436.24 L421.56,3434.75 L424.07,3433.26 L426.59,3431.77 L429.11,3430.29 L431.62,3428.81 L434.14,3427.33 L436.65,3425.86 L439.17,3424.39 L441.68,3422.93 L444.20,3421.46 L446.72,3420.00 L449.23,3418.55 L451.75,3417.09 L454.26,3415.64 L456.78,3414.19 L459.29,3412.74 L461.81,3411.30 L464.33,3409.86 L466.84,3408.42 L469.36,3406.98 L471.87,3405.55 L474.39,3404.12 L476.91,3402.69 L479.42,3401.26 L481.94,3399.83 L484.45,3398.41 L486.97,3396.99 L489.48,3395.57 L492.00,3394.16 L494.52,3392.74 L497.03,3391.33 L499.55,3389.92 L502.06,3388.51 L504.58,3387.10 L507.09,3385.70 L509.61,3384.30 L512.13,3382.90 L514.64,3381.50 L517.16,3380.10 L519.67,3378.71 L522.19,3377.32 L524.71,3375.93 L527.22,3374.54 L529.74,3373.15 L532.25,3371.77 L534.77,3370.38 L537.28,3369.00 L539.80,3367.62 L542.32,3366.25 L544.83,3364.87 L547.35,3363.50 L549.86,3362.13 L552.38,3360.76 L554.89,3359.39 L557.41,3358.03 L559.93,3356.67 L562.44,3355.31 L564.96,3353.95 L567.47,3352.59 L569.99,3351.24 L572.51,3349.89 L575.02,3348.54 L577.54,3347.19 L580.05,3345.85 L582.57,3344.51 L585.08,3343.17 L587.60,3341.83 L590.12,3340.49 L592.63,3339.16 L595.15,3337.83 L597.66,3336.50 L600.18,3335.18 L602.69,3333.86 L605.21,3332.54 L607.73,3331.22 L610.24,3329.91 L612.76,3328.60 L615.27,3327.29 L617.79,3325.99 L620.31,3324.69 L622.82,3323.39 L625.34,3322.10 L627.85,3320.80 L630.37,3319.52 L632.88,3318.23 L635.40,3316.95 L637.92,3315.67 L640.43,3314.40 L642.95,3313.13 L645.46,3311.86 L647.98,3310.60 L650.49,3309.34 L653.01,3308.08 L655.53,3306.83 L658.04,3305.58 L660.56,3304.34 L663.07,3303.10 L665.59,3301.87 L668.11,3300.64 L670.62,3299.41 L673.14,3298.19 L675.65,3296.98 L678.17,3295.76 L680.68,3294.56 L683.20,3293.35 L685.72,3292.16 L688.23,3290.96 L690.75,3289.78 L693.26,3288.60 L695.78,3287.42 L698.29,3286.25 L700.81,3285.08 L703.33,3283.92 L705.84,3282.77 L708.36,3281.62 L710.87,3280.47 L713.39,3279.34 L715.91,3278.21 L718.42,3277.08 L720.94,3275.96 L723.45,3274.85 L725.97,3273.74 L728.48,3272.64 L731.00,3271.55 L733.52,3270.46 L736.03,3269.38 L738.55,3268.31 L741.06,3267.24 L743.58,3266.18 L746.09,3265.13 L748.61,3264.08 L751.13,3263.05 L753.64,3262.02 L756.16,3260.99 L758.67,3259.98 L761.19,3258.97 L763.71,3257.97 L766.22,3256.98 L768.74,3255.99 L771.25,3255.02 L773.77,3254.05 L776.28,3253.09 L778.80,3252.14 L781.32,3251.20 L783.83,3250.26 L786.35,3249.34 L788.86,3248.42 L791.38,3247.51 L793.89,3246.62 L796.41,3245.73 L798.93,3244.85 L801.44,3243.97 L803.96,3243.11 L806.47,3242.26 L808.99,3241.42 L811.51,3240.58 L814.02,3239.76 L816.54,3238.95 L819.05,3238.15 L821.57,3237.35 L824.08,3236.57 L826.60,3235.80 L829.12,3235.03 L831.63,3234.28 L834.15,3233.54 L836.66,3232.81 L839.18,3232.09 L841.69,3231.38 L844.21,3230.68 L846.73,3230.00 L849.24,3229.32 L851.76,3228.66 L854.27,3228.00 L856.79,3227.36 L859.31,3226.73 L861.82,3226.11 L864.34,3225.51 L866.85,3224.91 L869.37,3224.33 L871.88,3223.76 L874.40,3223.20 L876.92,3222.65 L879.43,3222.12 L881.95,3221.60 L884.46,3221.09 L886.98,3220.59 L889.49,3220.11 L892.01,3219.64 L894.53,3219.18 L897.04,3218.74 L899.56,3218.30 L902.07,3217.88 L904.59,3217.48 L907.11,3217.09 L909.62,3216.71 L912.14,3216.34 L914.65,3215.99 L917.17,3215.65 L919.68,3215.33 L922.20,3215.02 L924.72,3214.72 L927.23,3214.44 L929.75,3214.17 L932.26,3213.91 L934.78,3213.67 L937.29,3213.45 L939.81,3213.23 L942.33,3213.04 L944.84,3212.85 L947.36,3212.68 L949.87,3212.53 L952.39,3212.39 L954.91,3212.27 L957.42,3212.16 L959.94,3212.06 L962.45,3211.98 L964.97,3211.92 L967.48,3211.87 L970.00,3211.84 L972.52,3211.82 L975.03,3211.82 L977.55,3211.83 L980.06,3211.86 L982.58,3211.90 L985.09,3211.96 L987.61,3212.03 L990.13,3212.12 L992.64,3212.23 L995.16,3212.35 L997.67,3212.48 L1000.19,3212.64 L1002.71,3212.81 L1005.22,3212.99 L1007.74,3213.19 L1010.25,3213.41 L1012.77,3213.64 L1015.28,3213.89 L1017.80,3214.16 L1020.32,3214.44 L1022.83,3214.74 L1025.35,3215.05 L1027.86,3215.38 L1030.38,3215.73 L1032.89,3216.09 L1035.41,3216.47 L1037.93,3216.87 L1040.44,3217.28 L1042.96,3217.71 L1045.47,3218.16 L1047.99,3218.62 L1050.51,3219.10 L1053.02,3219.59 L1055.54,3220.11 L1058.05,3220.64 L1060.57,3221.18 L1063.08,3221.74 L1065.60,3222.32 L1068.12,3222.92 L1070.63,3223.53 L1073.15,3224.16 L1075.66,3224.80 L1078.18,3225.47 L1080.69,3226.15 L1083.21,3226.84 L1085.73,3227.55 L1088.24,3228.28 L1090.76,3229.03 L1093.27,3229.79 L1095.79,3230.57 L1098.31,3231.36 L1100.82,3232.18 L1103.34,3233.01 L1105.85,3233.85 L1108.37,3234.71 L1110.88,3235.59 L1113.40,3236.49 L1115.92,3237.40 L1118.43,3238.33 L1120.95,3239.27 L1123.46,3240.23 L1125.98,3241.21 L1128.49,3242.20 L1131.01,3243.21 L1133.53,3244.24 L1136.04,3245.28 L1138.56,3246.34 L1141.07,3247.41 L1143.59,3248.50 L1146.11,3249.61 L1148.62,3250.73 L1151.14,3251.87 L1153.65,3253.02 L1156.17,3254.19 L1158.68,3255.38 L1161.20,3256.58 L1163.72,3257.79 L1166.23,3259.03 L1168.75,3260.27 L1171.26,3261.54 L1173.78,3262.81 L1176.29,3264.11 L1178.81,3265.42 L1181.33,3266.74 L1183.84,3268.08 L1186.36,3269.43 L1188.87,3270.80 L1191.39,3272.18 L1193.91,3273.58 L1196.42,3274.99 L1198.94,3276.41 L1201.45,3277.85 L1203.97,3279.31 L1206.48,3280.77 L1209.00,3282.25 L1211.52,3283.75 L1214.03,3285.26 L1216.55,3286.78 L1219.06,3288.32 L1221.58,3289.87 L1224.09,3291.43 L1226.61,3293.00 L1229.13,3294.59 L1231.64,3296.19 L1234.16,3297.80 L1236.67,3299.43 L1239.19,3301.07 L1241.71,3302.72 L1244.22,3304.38 L1246.74,3306.05 L1249.25,3307.74 L1251.77,3309.44 L1254.28,3311.14 L1256.80,3312.86 L1259.32,3314.59 L1261.83,3316.33 L1264.35,3318.08 L1266.86,3319.85 L1269.38,3321.62 L1271.89,3323.40 L1274.41,3325.19 L1276.93,3327.00 L1279.44,3328.81 L1281.96,3330.63 L1284.47,3332.46 L1286.99,3334.30 L1289.51,3336.14 L1292.02,3338.00 L1294.54,3339.86 L1297.05,3341.73 L1299.57,3343.61 L1302.08,3345.50 L1304.60,3347.39 L1307.12,3349.30 L1309.63,3351.20 L1312.15,3353.12 L1314.66,3355.04 L1317.18,3356.97 L1319.69,3358.90 L1322.21,3360.84 L1324.73,3362.78 L1327.24,3364.73 L1329.76,3366.69 L1332.27,3368.65 L1334.79,3370.61 L1337.31,3372.58 L1339.82,3374.55 L1342.34,3376.52 L1344.85,3378.50 L1347.37,3380.48 L1349.88,3382.46 L1352.40,3384.45 L1354.92,3386.44 L1357.43,3388.43 L1359.95,3390.42 L1362.46,3392.41 L1364.98,3394.40 L1367.49,3396.39 L1370.01,3398.39 L1372.53,3400.38 L1375.04,3402.37 L1377.56,3404.36 L1380.07,3406.35 L1382.59,3408.34 L1385.11,3410.33 L1387.62,3412.31 L1390.14,3414.30 L1392.65,3416.28 L1395.17,3418.25 L1397.68,3420.22 L1400.20,3422.19" fill="none" stroke="#ff0000" stroke-width="7.4" stroke-linecap="round" stroke-dasharray="0 15.1"/>
<rect x="514.17" y="3486.42" width="24.5" height="24.5" fill="#fff" stroke="#000" stroke-width="4.5"/>
<rect x="756.59" y="3293.66" width="24.5" height="24.5" fill="#fff" stroke="#000" stroke-width="4.5"/>
<rect x="999.01" y="3136.60" width="24.5" height="24.5" fill="#fff" stroke="#000" stroke-width="4.5"/>
<rect x="1241.43" y="3337.52" width="24.5" height="24.5" fill="#fff" stroke="#000" stroke-width="4.5"/>
<text x="1204.90" y="3555.50" font-size="44" font-style="italic" fill="#000" >V</text>
<text x="1234.30" y="3566.00" font-size="29" fill="#000" >G</text>
<text x="1269.90" y="3555.50" font-size="44" fill="#000" >= -60 V</text>
</svg></div></body></html>
